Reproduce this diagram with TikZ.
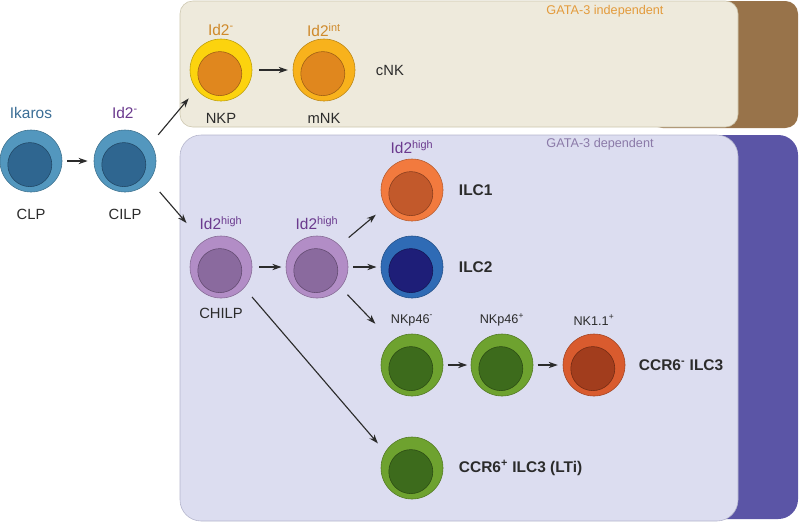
\documentclass[tikz,border=0pt]{standalone}
\usepackage{fontspec}
\setmainfont{Liberation Sans}
\usetikzlibrary{arrows.meta, positioning}

\definecolor{cream}{HTML}{EEEADC}
\definecolor{creamline}{HTML}{CCC6AE}
\definecolor{tabbrown}{HTML}{98734A}
\definecolor{lavender}{HTML}{DCDDF0}
\definecolor{lavline}{HTML}{B4B5CC}
\definecolor{tabpurple}{HTML}{5B55A6}
\definecolor{txtgray}{HTML}{2B2B2B}
\definecolor{ikaros}{HTML}{3B6E96}
\definecolor{idpurple}{HTML}{6B3A8E}
\definecolor{idorange}{HTML}{CF8A2C}
\definecolor{indep}{HTML}{E39B3C}
\definecolor{dep}{HTML}{8B7AA8}
% cell colours: outer / inner
\definecolor{clpout}{HTML}{5397BE}
\definecolor{clpin}{HTML}{2F6690}
\definecolor{nkpout}{HTML}{FCD30E}
\definecolor{mnkout}{HTML}{F8B21C}
\definecolor{nkin}{HTML}{E0871E}
\definecolor{chout}{HTML}{B28DC6}
\definecolor{chin}{HTML}{8A6A9E}
\definecolor{ilconeout}{HTML}{F27A3E}
\definecolor{ilconein}{HTML}{C2592B}
\definecolor{ilctwoout}{HTML}{2F6BB5}
\definecolor{ilctwoin}{HTML}{1E1E78}
\definecolor{grout}{HTML}{6EA22F}
\definecolor{grin}{HTML}{3D6B1C}
\definecolor{redout}{HTML}{D95B2E}
\definecolor{redin}{HTML}{A23D1D}

\tikzset{
    outercell/.style={
        circle,
        inner sep=0pt,
        minimum size=1.55cm,
        draw=#1!75!black,
        line width=0.4pt,
        fill=#1
    },
    innercell/.style={
        circle,
        inner sep=0pt,
        minimum size=1.1cm,
        draw=#1!70!black,
        line width=0.4pt,
        fill=#1,
        xshift=-0.03cm,
        yshift=-0.09cm
    },
    cellname/.style={font=\fontsize{10.5}{12}\selectfont, text=txtgray},
    marker/.style={font=\fontsize{11}{13}\selectfont},
    small_marker/.style={font=\fontsize{9}{11}\selectfont, text=txtgray},
    lineage/.style={font=\fontsize{11}{13}\selectfont\bfseries, text=txtgray, anchor=west},
    link/.style={-{Stealth[length=6.5pt, width=4.5pt]}, line width=0.8pt, txtgray}
}
% name, position, outer colour, inner colour
\newcommand{\cellpair}[4]{%
    \node[outercell=#3] (#1) at (#2) {};
    \node[innercell=#4] (#1-in) at (#2) {};
}

\begin{document}
\begin{tikzpicture}[x=0.025cm, y=-0.025cm]
    \useasboundingbox (0, 0) rectangle (800, 522);

    % Panels
    \fill[tabbrown, rounded corners=9pt] (650, 1) rectangle (798, 128);
    \draw[creamline, fill=cream, rounded corners=9pt] (180, 1) rectangle (738, 127);
    \node[font=\fontsize{9}{11}\selectfont, text=indep] (indep) at (605, 11) {GATA-3 independent};

    \fill[tabpurple, rounded corners=14pt] (650, 135) rectangle (798, 519);
    \draw[lavline, fill=lavender, rounded corners=15pt] (180, 135) rectangle (738, 521);
    \node[font=\fontsize{9}{11}\selectfont, text=dep] (dep) at (600, 144) {GATA-3 dependent};

    % Common progenitors
    \cellpair{clp}{31, 161}{clpout}{clpin}
    \node[marker, text=ikaros] (ikaros) at (31, 113) {Ikaros};
    \node[cellname] (clp-name) at (31, 214) {CLP};

    \cellpair{cilp}{125, 161}{clpout}{clpin}
    \node[marker, text=idpurple] (cilp-id) at (125, 113) {Id2\textsuperscript{-}};
    \node[cellname] (cilp-name) at (125, 214) {CILP};

    % GATA-3 independent branch
    \cellpair{nkp}{221, 70}{nkpout}{nkin}
    \node[marker, text=idorange] (nkp-id) at (221, 30) {Id2\textsuperscript{-}};
    \node[cellname] (nkp-name) at (221, 118) {NKP};

    \cellpair{mnk}{324, 70}{mnkout}{nkin}
    \node[marker, text=idorange] (mnk-id) at (324, 30) {Id2\textsuperscript{int}};
    \node[cellname] (mnk-name) at (324, 118) {mNK};
    \node[cellname, anchor=west] (cnk) at (371, 70) {cNK};

    % GATA-3 dependent branch
    \cellpair{chilp}{221, 267}{chout}{chin}
    \node[marker, text=idpurple] (chilp-id) at (221, 223) {Id2\textsuperscript{high}};
    \node[cellname] (chilp-name) at (221, 313) {CHILP};

    \cellpair{pre}{317, 267}{chout}{chin}
    \node[marker, text=idpurple] (pre-id) at (317, 223) {Id2\textsuperscript{high}};

    \cellpair{ilcone}{412, 190}{ilconeout}{ilconein}
    \node[marker, text=idpurple] (ilcone-id) at (412, 147) {Id2\textsuperscript{high}};
    \node[lineage] (ilcone-name) at (454, 190) {ILC1};

    \cellpair{ilctwo}{412, 267}{ilctwoout}{ilctwoin}
    \node[lineage] (ilctwo-name) at (454, 267) {ILC2};

    \cellpair{nkneg}{412, 365}{grout}{grin}
    \node[small_marker] (nkneg-id) at (412, 320) {NKp46\textsuperscript{-}};
    \cellpair{nkpos}{502, 365}{grout}{grin}
    \node[small_marker] (nkpos-id) at (502, 320) {NKp46\textsuperscript{+}};
    \cellpair{nkone}{594, 365}{redout}{redin}
    \node[small_marker] (nkone-id) at (594, 320) {NK1.1\textsuperscript{+}};
    \node[lineage] (ilcthree-name) at (634, 365) {CCR6\textsuperscript{-} ILC3};

    \cellpair{lti}{412, 468}{grout}{grin}
    \node[lineage] (lti-name) at (454, 468) {CCR6\textsuperscript{+} ILC3 (LTi)};

    % Arrows
    \draw[link, shorten <=3.5pt, shorten >=4.3pt] (clp.east) -- (cilp.west);
    \draw[link, shorten <=8pt, shorten >=8.5pt] (cilp.34) -- (nkp.218);
    \draw[link, shorten <=11pt, shorten >=17.5pt] (cilp.-38) -- (chilp.126);
    \draw[link, shorten <=5pt, shorten >=3.5pt] (nkp.east) -- (mnk.west);
    \draw[link, shorten <=5pt, shorten >=3pt] (chilp.east) -- (pre.west);
    \draw[link, shorten <=8.5pt, shorten >=9pt] (pre.44) -- (ilcone.212);
    \draw[link, shorten <=3.5pt, shorten >=3pt] (pre.east) -- (ilctwo.west);
    \draw[link, shorten <=7pt, shorten >=17pt] (pre.-41) -- (nkneg.130);
    \draw[link, shorten <=8.5pt, shorten >=8pt] (chilp.-42) -- (lti.149);
    \draw[link, shorten <=3pt, shorten >=2.5pt] (nkneg.east) -- (nkpos.west);
    \draw[link, shorten <=3pt, shorten >=3.5pt] (nkpos.east) -- (nkone.west);
\end{tikzpicture}
\end{document}
